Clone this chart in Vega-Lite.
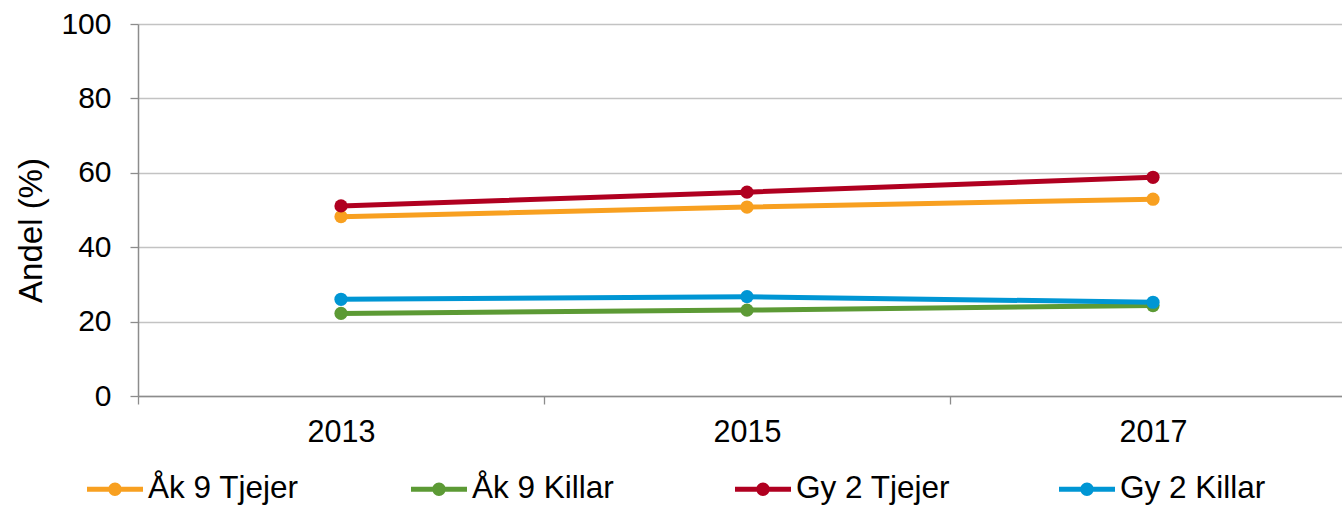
{
  "$schema": "https://vega.github.io/schema/vega-lite/v6.json",
  "autosize": "none",
  "width": 1204,
  "height": 372,
  "padding": {"left": 138, "top": 24, "right": 0, "bottom": 112},
  "background": "white",
  "config": {
    "view": {"stroke": null},
    "font": "Liberation Sans",
    "axis": {"labelColor": "black", "titleColor": "black", "labelFont": "Liberation Sans", "titleFont": "Liberation Sans", "titleFontWeight": "normal"},
    "legend": {"labelFont": "Liberation Sans", "labelColor": "black"}
  },
  "data": {
    "values": [
      {"year": "2013", "group": "Åk 9 Tjejer", "value": 48.2},
      {"year": "2015", "group": "Åk 9 Tjejer", "value": 50.8},
      {"year": "2017", "group": "Åk 9 Tjejer", "value": 52.9},
      {"year": "2013", "group": "Åk 9 Killar", "value": 22.2},
      {"year": "2015", "group": "Åk 9 Killar", "value": 23.1},
      {"year": "2017", "group": "Åk 9 Killar", "value": 24.3},
      {"year": "2013", "group": "Gy 2 Tjejer", "value": 51.1},
      {"year": "2015", "group": "Gy 2 Tjejer", "value": 54.8},
      {"year": "2017", "group": "Gy 2 Tjejer", "value": 58.8},
      {"year": "2013", "group": "Gy 2 Killar", "value": 26.0},
      {"year": "2015", "group": "Gy 2 Killar", "value": 26.7},
      {"year": "2017", "group": "Gy 2 Killar", "value": 25.2}
    ]
  },
  "encoding": {
    "x": {
      "field": "year", "type": "ordinal",
      "scale": {"type": "band", "range": [0, 1218], "paddingInner": 0, "paddingOuter": 0},
      "axis": {
        "title": null, "labelAngle": 0, "labelFontSize": 30.5, "labelPadding": 13,
        "tickBand": "extent", "tickSize": 8, "tickColor": "#8c8c8c", "tickWidth": 1.3,
        "domainColor": "#8c8c8c", "domainWidth": 1.5, "grid": false
      }
    },
    "y": {
      "field": "value", "type": "quantitative",
      "scale": {"domain": [0, 100], "nice": false},
      "axis": {
        "title": "Andel (%)", "titleFontSize": 33, "titleBaseline": "middle", "titleAngle": 270,
        "titleX": -107, "titleY": 206,
        "values": [0, 20, 40, 60, 80, 100], "labelFontSize": 30, "labelPadding": 19,
        "tickSize": 8, "tickColor": "#8c8c8c", "tickWidth": 1.3,
        "domainColor": "#8c8c8c", "domainWidth": 1.5,
        "grid": true, "gridColor": "#c3c3c3", "gridWidth": 1.4
      }
    },
    "color": {
      "field": "group", "type": "nominal",
      "scale": {
        "domain": ["Åk 9 Tjejer", "Åk 9 Killar", "Gy 2 Tjejer", "Gy 2 Killar"],
        "range": ["#f8a020", "#5c9a35", "#b00020", "#0096d4"]
      },
      "legend": {
        "title": null, "orient": "none", "legendX": -51, "legendY": 437,
        "direction": "horizontal", "columns": 4, "gridAlign": "all",
        "padding": 0, "columnPadding": 108,
        "symbolType": "M-1,-0.09H1V0.09H-1Z M-0.24,0A0.24,0.24 0 1,1 0.24,0A0.24,0.24 0 1,1 -0.24,0Z",
        "symbolSize": 3136, "symbolStrokeWidth": 0, "symbolOpacity": 1,
        "labelFontSize": 31.5, "labelOffset": 5, "labelLimit": 400
      }
    }
  },
  "layer": [
    {"mark": {"type": "line", "strokeWidth": 5}},
    {"mark": {"type": "point", "filled": true, "size": 175, "opacity": 1}}
  ]
}
